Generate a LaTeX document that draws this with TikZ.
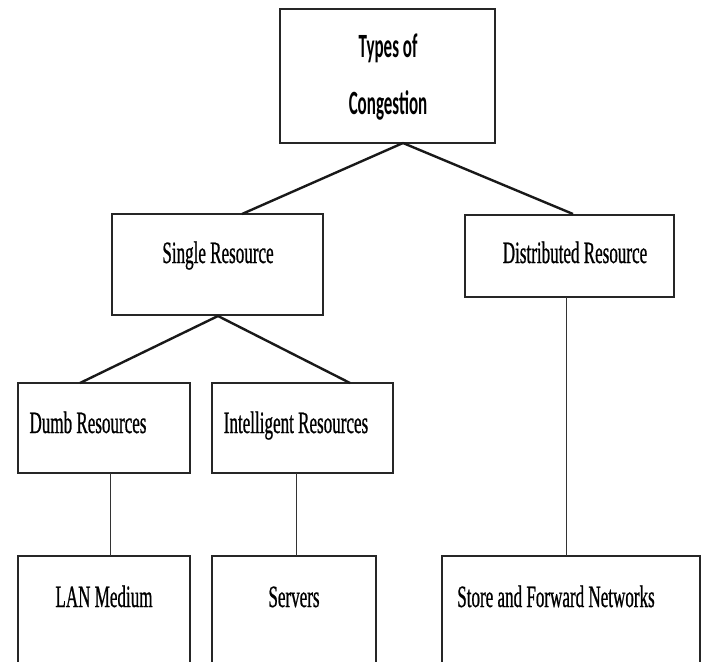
\documentclass[tikz,border=0pt]{standalone}
\usepackage{fontspec}
\newfontfamily\boxfont[FakeStretch=0.55,FakeBold=0.7]{Liberation Serif}
\newfontfamily\topfont[FakeStretch=0.5]{Carlito}
\begin{document}
\begin{tikzpicture}[x=1pt,y=-1pt,
  box/.style={draw=black!85,line width=1.4pt,fill=none},
  lbl/.style={inner sep=0pt,anchor=base,font=\boxfont\fontsize{31}{31}\selectfont},
  toplbl/.style={inner sep=0pt,anchor=base,font=\topfont\bfseries\fontsize{34}{34}\selectfont},
  diag/.style={draw=black!90,line width=2.4pt},
  vert/.style={draw=black!80,line width=1pt}]
\clip (0,0) rectangle (706,661);
\fill[white] (0,0) rectangle (706,661);
% boxes
\draw[box] (280,9) rectangle (495,143) node[pos=0,inner sep=0pt] (top) {};
\draw[box] (112,214) rectangle (323,315) node[pos=0,inner sep=0pt] (single) {};
\draw[box] (465,215) rectangle (674,297) node[pos=0,inner sep=0pt] (dist) {};
\draw[box] (18,383) rectangle (190,473) node[pos=0,inner sep=0pt] (dumb) {};
\draw[box] (212,383) rectangle (393,473) node[pos=0,inner sep=0pt] (intel) {};
\draw[box] (18,556) rectangle (190,700) node[pos=0,inner sep=0pt] (lan) {};
\draw[box] (212,556) rectangle (376,700) node[pos=0,inner sep=0pt] (servers) {};
\draw[box] (442,556) rectangle (700,700) node[pos=0,inner sep=0pt] (store) {};
% texts
\node[toplbl] (t1) at (388,58) {Types of};
\node[toplbl] (t2) at (388,114) {Congestion};
\node[lbl] (tsingle) at (218,263) {Single Resource};
\node[lbl] (tdist) at (575,263) {Distributed Resource};
\node[lbl] (tdumb) at (88,433) {Dumb Resources};
\node[lbl] (tintel) at (296,433) {Intelligent Resources};
\node[lbl] (tlan) at (104,607) {LAN Medium};
\node[lbl] (tserv) at (294,607) {Servers};
\node[lbl] (tstore) at (556,607) {Store and Forward Networks};
% connector points
\coordinate (j1) at (403,143);
\coordinate (singletop) at (242,214);
\coordinate (disttop) at (573,214);
\coordinate (j2) at (218,316);
\coordinate (dumbtop) at (80,383);
\coordinate (inteltop) at (350,383);
\coordinate (dumbbot) at (110,473);
\coordinate (lantop) at (110,556);
\coordinate (intelbot) at (296,473);
\coordinate (servtop) at (296,556);
\coordinate (distbot) at (566,297);
\coordinate (storetop) at (566,556);
% connectors
\draw[diag] (j1) -- (singletop);
\draw[diag] (j1) -- (disttop);
\draw[diag] (j2) -- (dumbtop);
\draw[diag] (j2) -- (inteltop);
\draw[vert] (dumbbot) -- (lantop);
\draw[vert] (intelbot) -- (servtop);
\draw[vert] (distbot) -- (storetop);
\end{tikzpicture}
\end{document}
